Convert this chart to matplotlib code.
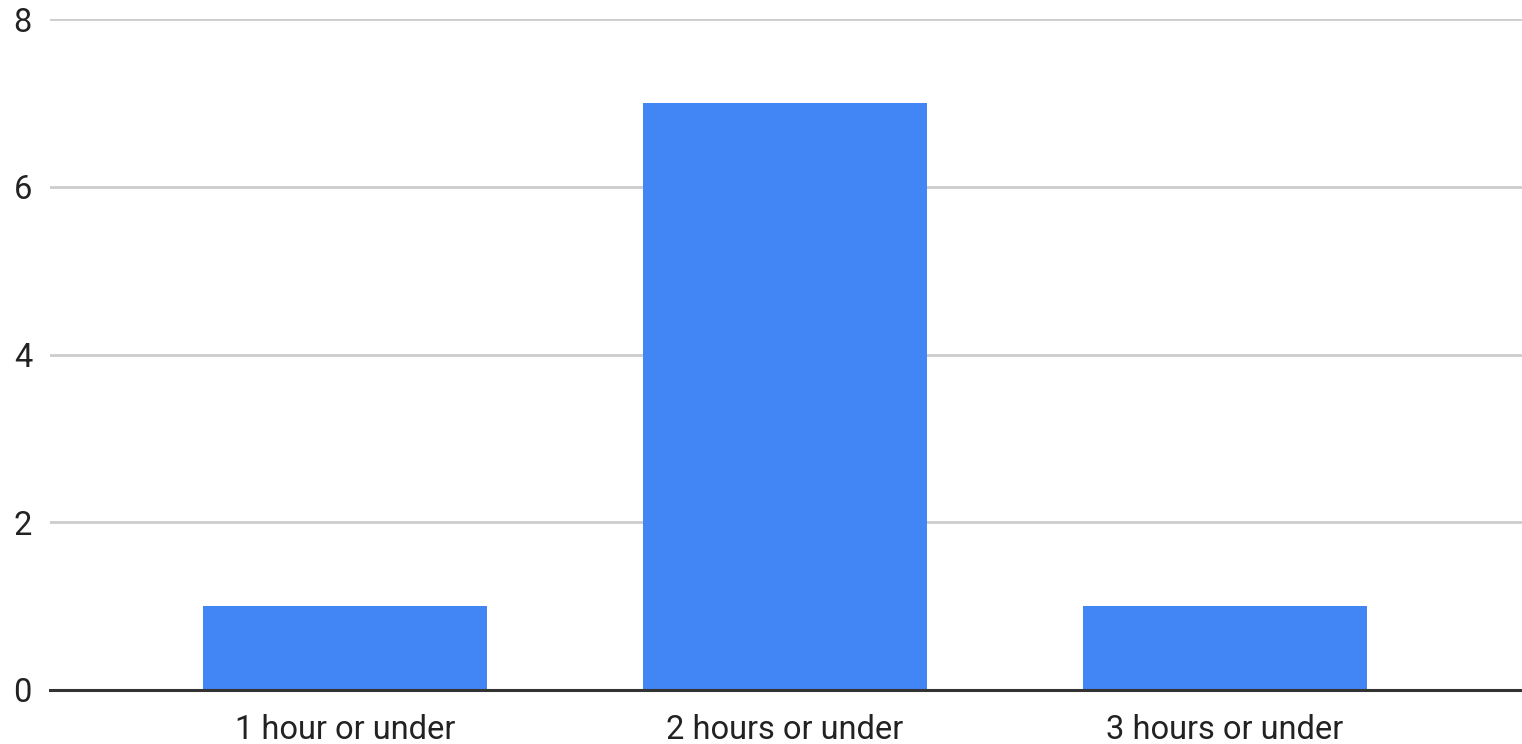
import matplotlib.pyplot as plt

categories = ['1 hour or under', '2 hours or under', '3 hours or under']
counts = [1, 7, 1]
yticks = [0, 2, 4, 6, 8]

plt.rcParams['font.family'] = ['Roboto', 'DejaVu Sans']

fig = plt.figure(figsize=(15.22, 7.44), dpi=100)
ax = fig.add_axes([50 / 1522, 54 / 744, 1472 / 1522, 671 / 744])

ax.bar(range(len(categories)), counts, width=0.645, color='#4285f4', zorder=3)

ax.set_xlim(-0.67, 2.675)
ax.set_ylim(0, 8)
ax.set_xticks(range(len(categories)))
ax.set_xticklabels(categories)
ax.set_yticks(yticks)

ax.yaxis.grid(True, color='#cccccc', linewidth=2, zorder=0)
ax.axhline(0, color='#333333', linewidth=2.2, zorder=4, clip_on=False)

for s in ax.spines.values():
    s.set_visible(False)
ax.tick_params(axis='both', length=0, labelsize=23.5, colors='#222222')
ax.tick_params(axis='x', pad=17)
ax.tick_params(axis='y', pad=13)

fig.savefig('out.png', dpi=100)
